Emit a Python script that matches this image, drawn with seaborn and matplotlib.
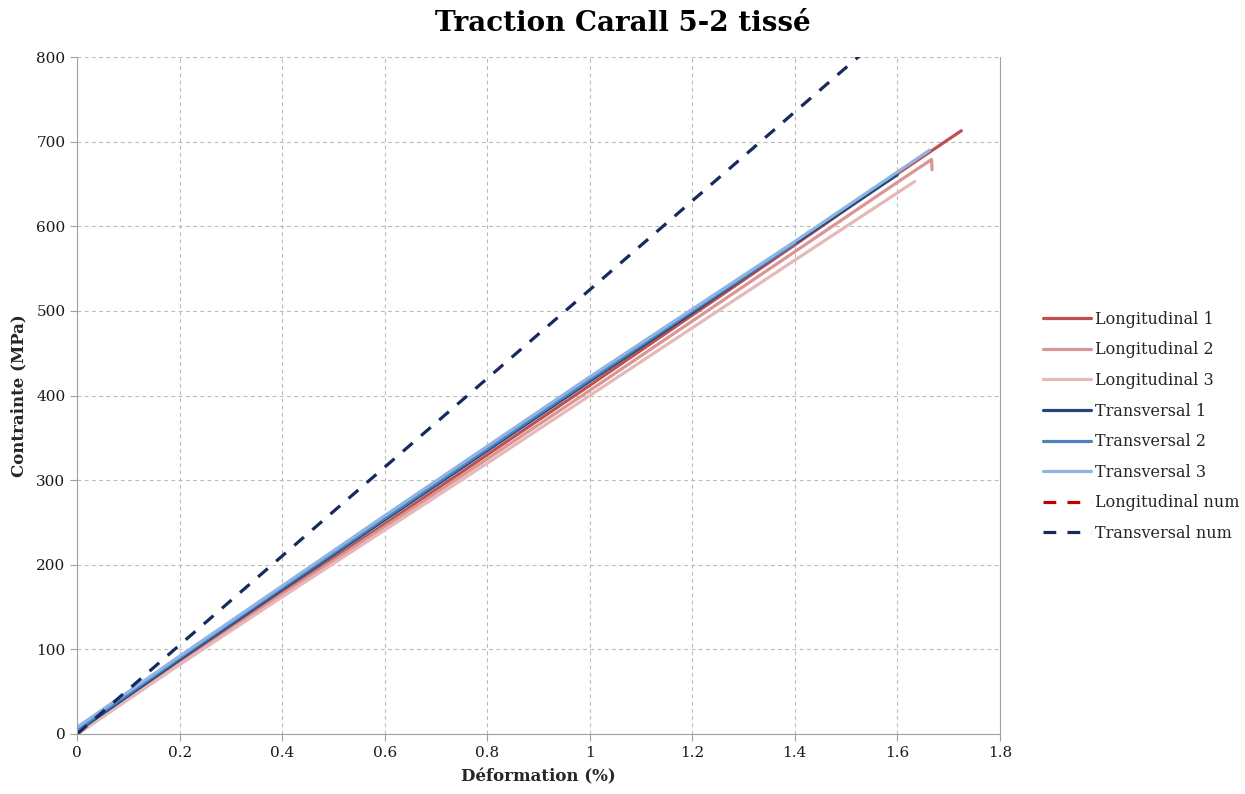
import numpy as np
import pandas as pd
import matplotlib
matplotlib.use('Agg')
import matplotlib.pyplot as plt
import seaborn as sns

# données (déformation %, contrainte MPa)
long1_x = [0, 0.2, 0.4, 0.6, 0.8, 1.0, 1.2, 1.4, 1.6, 1.725]
long1_y = [0, 84, 167, 248, 330, 412, 495, 578, 662, 713]
long2_x = [0, 0.2, 0.4, 0.6, 0.8, 1.0, 1.2, 1.4, 1.6, 1.667, 1.668]
long2_y = [0, 83, 165, 245, 325, 406, 488, 570, 652, 679, 667]
long3_x = [0, 0.2, 0.4, 0.6, 0.8, 1.0, 1.2, 1.4, 1.634]
long3_y = [0, 82, 162, 241, 320, 400, 480, 560, 653]
trans1_x = [0, 0.2, 0.4, 0.6, 0.8, 1.0, 1.2, 1.4, 1.6]
trans1_y = [3, 88, 171, 253, 335, 417, 498, 580, 661]
trans2_x = [0, 0.2, 0.4, 0.6, 0.8, 1.0, 1.2, 1.4]
trans2_y = [5, 90, 173, 255, 337, 419, 500, 580]
trans3_x = [0, 0.2, 0.4, 0.6, 0.8, 1.0, 1.2, 1.4, 1.663]
trans3_y = [8, 92, 175, 258, 340, 422, 502, 582, 690]
longnum_x = []
longnum_y = []
transnum_x = [0, 0.5, 1.0, 1.55]
transnum_y = [0, 263, 525, 814]

series = [
    ('Longitudinal 1', long1_x, long1_y, '#C0504D', '-'),
    ('Longitudinal 2', long2_x, long2_y, '#D99694', '-'),
    ('Longitudinal 3', long3_x, long3_y, '#E6B9B8', '-'),
    ('Transversal 1', trans1_x, trans1_y, '#1F497D', '-'),
    ('Transversal 2', trans2_x, trans2_y, '#4F81BD', '-'),
    ('Transversal 3', trans3_x, trans3_y, '#8EB4E3', '-'),
    ('Longitudinal num', longnum_x, longnum_y, '#C00000', '--'),
    ('Transversal num', transnum_x, transnum_y, '#172A5E', '--'),
]

sns.set_style('white')
plt.rcParams['font.family'] = ['DejaVu Serif']

fig = plt.figure(figsize=(12.45, 7.94), dpi=100)
ax = fig.add_axes([0.062, 0.0756, 0.741, 0.8524])

for name, x, y, c, ls in series:
    if len(x) == 0:
        ax.plot([], [], color=c, ls=ls, lw=2.3, label=name, dashes=(4, 3.5))
        continue
    df = pd.DataFrame({'x': x, 'y': y})
    sns.lineplot(data=df, x='x', y='y', color=c, lw=2.3, label=name, ax=ax,
                 sort=False, estimator=None, linestyle=ls)
    if ls == '--':
        ax.lines[-1].set_dashes((4, 3.5))

ax.set_xlim(0, 1.8)
ax.set_ylim(0, 800)
ax.set_xticks(np.arange(0, 1.81, 0.2))
ax.set_xticklabels(['0', '0.2', '0.4', '0.6', '0.8', '1', '1.2', '1.4', '1.6', '1.8'])
ax.set_yticks(range(0, 801, 100))
ax.grid(True, ls='--', lw=0.8, color='#BBBBBB', dashes=(3.5, 3))
ax.set_axisbelow(True)
for s in ['left', 'bottom', 'right']:
    ax.spines[s].set_color('#A0A0A0')
ax.spines['top'].set_visible(False)
ax.tick_params(axis='both', length=5, color='#A0A0A0', labelsize=11, labelcolor='#1a1a1a', direction='out',
               bottom=True, left=True)
ax.set_xlabel('Déformation (%)', fontsize=12, fontweight='bold', labelpad=6)
ax.set_ylabel('Contrainte (MPa)', fontsize=12, fontweight='bold', labelpad=6)
fig.suptitle('Traction Carall 5-2 tissé', x=0.5, y=0.988, fontsize=20, fontweight='bold', color='black')

h, l = ax.get_legend_handles_labels()
ax.get_legend().remove()
fig.legend(h, l, loc='center left', bbox_to_anchor=(0.826, 0.463), frameon=False,
           fontsize=11.5, labelspacing=0.85, handlelength=3.0, handletextpad=0.3)

fig.savefig('out.png', dpi=100)
